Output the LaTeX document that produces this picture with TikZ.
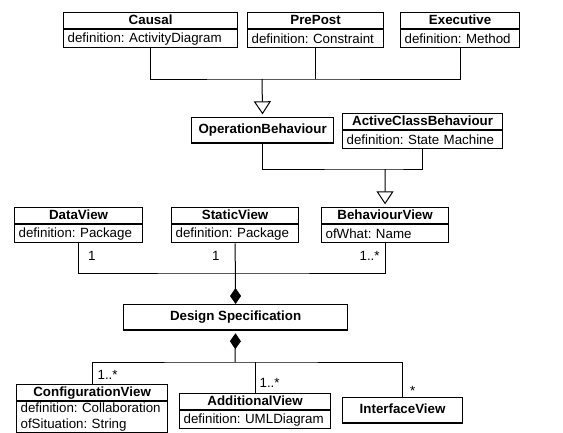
\documentclass[tikz,border=0pt]{standalone}
\usepackage{fontspec}
\setmainfont{Liberation Sans}
\frenchspacing
\usepackage{tikz}
\usetikzlibrary{arrows.meta}
\usetikzlibrary{positioning}
\tikzstyle{head} = [draw, line width=0.9pt, anchor=north west, font=\bfseries, inner sep=0pt, text height=7.5pt, text depth=2pt, minimum height=12pt]
\tikzstyle{attr} = [draw, line width=0.9pt, anchor=north west, align=left, inner xsep=3pt, inner ysep=1pt, minimum height=13.5pt, font=\fontsize{10}{12}\selectfont]
\tikzstyle{single} = [head, minimum height=19pt]
\tikzstyle{mult} = [inner sep=1pt]
\tikzstyle{gen} = [-{Triangle[open,width=12.75pt,length=9.75pt]}, shorten >=2pt]
\tikzstyle{comp} = [-{Diamond[width=8.25pt,length=12pt]}]
\tikzstyle{compstart} = [{Diamond[width=8.25pt,length=12pt]}-, shorten <=2pt]
\newcommand{\umlclass}[5]{%
	\pgfmathsetmacro{\clsw}{#3*0.75}%
	\pgfmathsetmacro{\clst}{#3*0.75-6}%
	\node[head, minimum width=\clsw pt] (#1) at (#2) {#4};
	\node[attr, text width=\clst pt] (#1-a) at (#1.south west) {#5};
}

\begin{document}
\begin{tikzpicture}[x=0.75pt, y=-0.75pt, line width=0.75pt]
	\useasboundingbox (0,0) rectangle (563,432);
	\clip (0,0) rectangle (563,432);
	\umlclass{causal}{63,12}{174}{Causal}{definition: ActivityDiagram}
	\umlclass{prepost}{247,12}{136}{PrePost}{definition: Constraint}
	\umlclass{exec}{400,12}{119}{Executive}{definition: Method}
	\node[single, minimum width=106.5pt] (opb) at (191,117) {OperationBehaviour};
	\umlclass{acb}{342,113}{160}{ActiveClassBehaviour}{definition: State Machine}
	\umlclass{dv}{14,207}{128}{DataView}{definition: Package}
	\umlclass{sv}{171,207}{127}{StaticView}{definition: Package}
	\umlclass{bv}{321,207}{127}{BehaviourView}{ofWhat: Name}
	\node[single, minimum width=168pt] (ds) at (123,304) {Design Specification};
	\umlclass{cfg}{16,384}{151}{ConfigurationView}{definition: Collaboration\\ofSituation: String}
	\umlclass{add}{179,393}{151}{AdditionalView}{definition: UMLDiagram}
	\node[single, minimum width=90pt] (ifv) at (342,397) {InterfaceView};
	% junctions
	\coordinate (j1) at (262,79);
	\coordinate (j2) at (385,169);
	\coordinate (j3) at (235,273);
	\coordinate (j4) at (235,362);
	\draw (causal-a.south) |- (j1) -| (exec-a.south);
	\draw (prepost-a.south) -- (prepost-a.south |- j1);
	\draw[gen] (j1) -- (opb.north);
	\draw (opb.south) |- (j2) -| (acb-a.south);
	\draw[gen] (j2) -- (bv.north);
	\draw (dv-a.south) |- (j3) -| (bv-a.south);
	\draw[comp] (sv-a.south) -- (ds.north);
	\draw[compstart] (ds.south) -- (j4);
	\draw (cfg.north) |- (j4) -| (ifv.north);
	\draw (add.north) -- (add.north |- j4);
	% multiplicities
	\node[mult, below right=4.25pt and 5.75pt of dv-a.south] (m1) {1};
	\node[mult, below left=4.25pt and 10.25pt of sv-a.south] (m2) {1};
	\node[mult, below left=4.25pt and 2.75pt of bv-a.south] (m3) {1..*};
	\node[mult, above right=2pt and 2.75pt of cfg.north] (m4) {1..*};
	\node[mult, above right=2.75pt and 2pt of add.north] (m5) {1..*};
	\node[mult, above right=0pt and 4.25pt of ifv.north] (m6) {*};
\end{tikzpicture}
\end{document}
